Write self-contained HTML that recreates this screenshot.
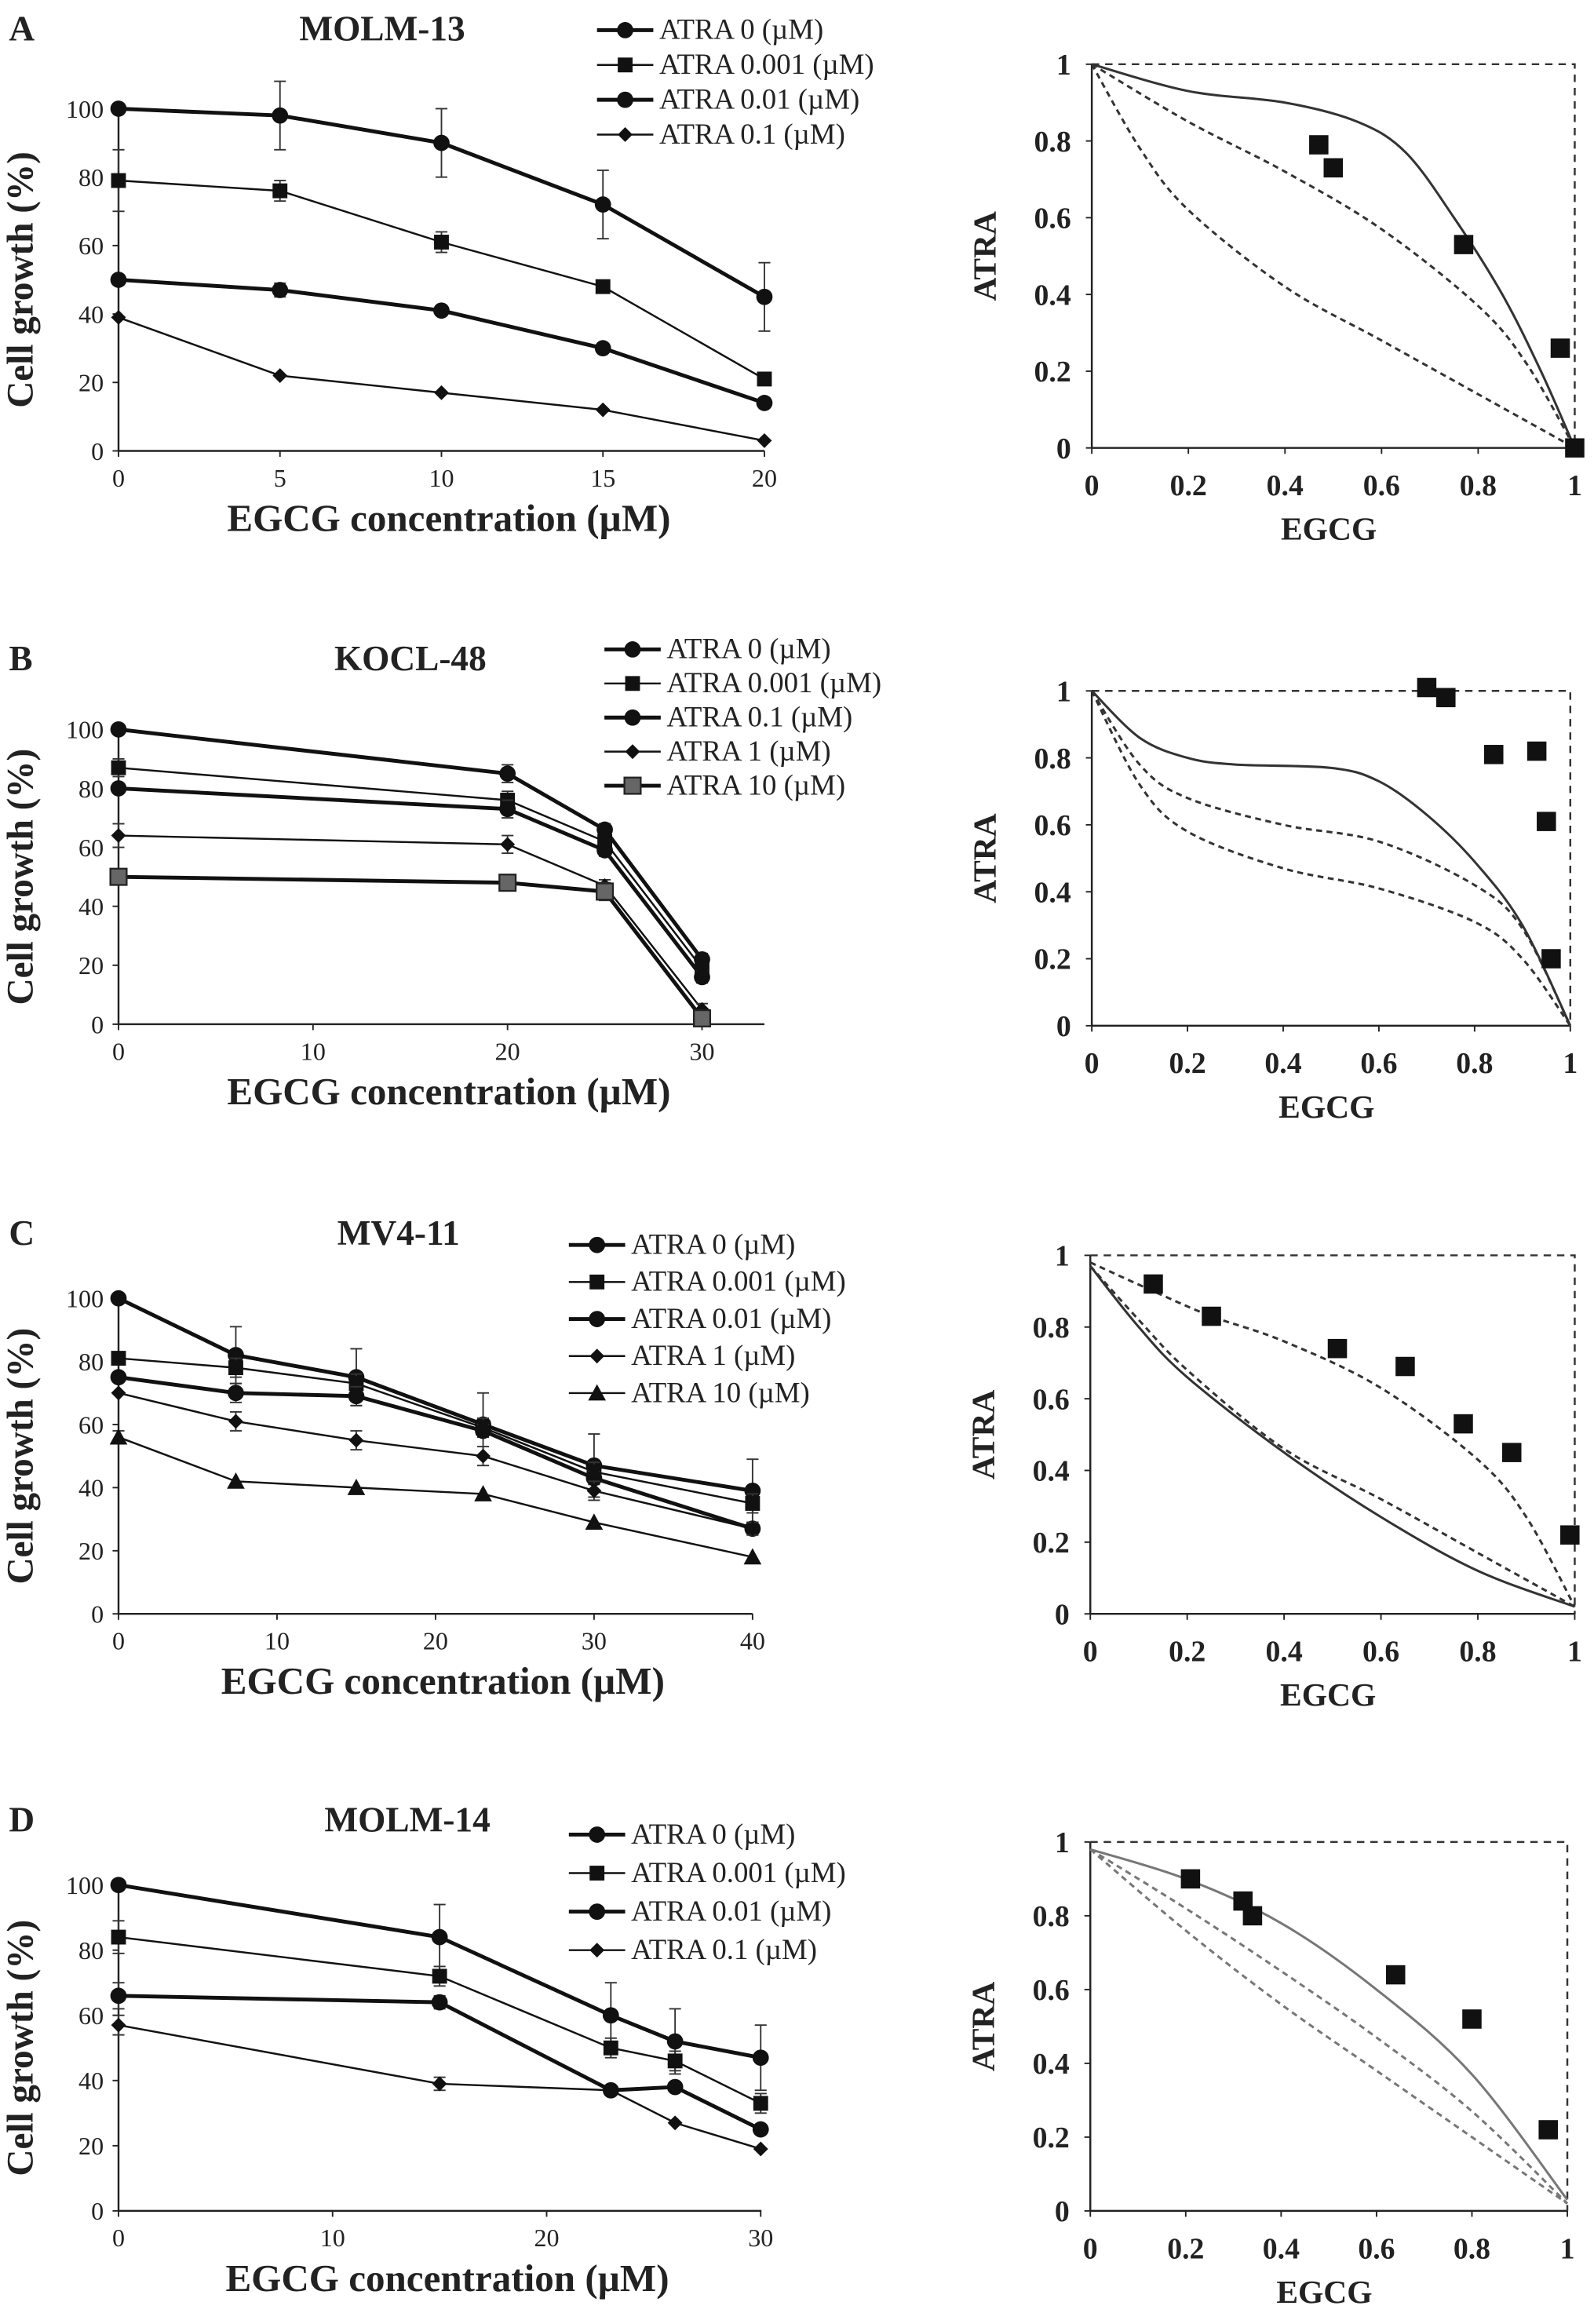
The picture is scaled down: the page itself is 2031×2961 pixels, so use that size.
<!DOCTYPE html>
<html><head><meta charset="utf-8"><style>
html,body{margin:0;padding:0;background:#fff}
svg{display:block}
text{font-family:"Liberation Serif",serif;fill:#222}
</style></head><body>
<svg id="fig" width="2031" height="2961" viewBox="0 0 1076 1568" xmlns="http://www.w3.org/2000/svg"></svg>
<script>
// ---- Data ----
const aX=[0,5,10,15,20];
const aSeries=[[100,98,90,72,45],[79,76,61,48,21],[50,47,41,30,14],[39,22,17,12,3]];
const aErr=[[0,10,10,10,10],[9,3,3,0,0],[0,2,0,0,0],[0,0,0,0,0]];
const aNames=["ATRA 0 (µM)","ATRA 0.001 (µM)","ATRA 0.01 (µM)","ATRA 0.1 (µM)"];
const bX=[0,20,25,30];
const bSeries=[[100,85,66,22],[87,76,62,19],[80,73,59,16],[64,61,47,5],[50,48,45,2]];
const bErr=[[0,3,2,2],[3,3,2,2],[0,3,2,2],[4,3,2,2],[2,2,3,2]];
const bNames=["ATRA 0 (µM)","ATRA 0.001 (µM)","ATRA 0.1 (µM)","ATRA 1 (µM)","ATRA 10 (µM)"];
const cX=[0,7.4,15,23,30,40];
const cSeries=[[100,82,75,60,47,39],[81,78,73,59,45,35],[75,70,69,58,43,27],[70,61,55,50,39,27],[56,42,40,38,29,18]];
const cErr=[[0,9,9,10,10,10],[0,3,3,3,3,3],[0,3,3,2,2,2],[0,3,3,3,3,2],[2,0,0,0,0,0]];
const cNames=["ATRA 0 (µM)","ATRA 0.001 (µM)","ATRA 0.01 (µM)","ATRA 1 (µM)","ATRA 10 (µM)"];
const dX=[0,15,23,26,30];
const dSeries=[[100,84,60,52,47],[84,72,50,46,33],[66,64,37,38,25],[57,39,37,27,19]];
const dErr=[[0,10,10,10,10],[5,3,3,3,3],[4,2,0,0,0],[3,2,0,0,0]];
const dNames=["ATRA 0 (µM)","ATRA 0.001 (µM)","ATRA 0.01 (µM)","ATRA 0.1 (µM)"];
// isobolograms
const aPtsX=[0.47,0.5,0.77,0.97,1.0], aPtsY=[0.79,0.73,0.53,0.26,0];
const aSolid=[[0,1],[0.2,0.93],[0.4,0.9],[0.55,0.85],[0.65,0.77],[0.75,0.6],[0.85,0.4],[0.93,0.2],[1,0]];
const aDash1=[[0,1],[0.2,0.85],[0.4,0.72],[0.6,0.57],[0.8,0.37],[0.9,0.22],[1,0]];
const aDash2=[[0,1],[0.1,0.78],[0.2,0.62],[0.4,0.42],[0.6,0.28],[0.8,0.14],[1,0]];
const bPtsX=[0.7,0.74,0.84,0.93,0.95,0.96], bPtsY=[1.01,0.98,0.81,0.82,0.61,0.2];
const bSolid=[[0,1],[0.1,0.86],[0.2,0.8],[0.3,0.78],[0.5,0.77],[0.6,0.73],[0.7,0.63],[0.8,0.49],[0.9,0.3],[1,0]];
const bDash1=[[0,1],[0.1,0.78],[0.2,0.68],[0.4,0.6],[0.6,0.55],[0.8,0.42],[0.9,0.29],[1,0]];
const bDash2=[[0,1],[0.1,0.72],[0.2,0.58],[0.4,0.47],[0.6,0.41],[0.8,0.31],[0.9,0.2],[1,0]];
const cPtsX=[0.13,0.25,0.51,0.65,0.77,0.87,0.99], cPtsY=[0.92,0.83,0.74,0.69,0.53,0.45,0.22];
const cDash1=[[0,0.98],[0.13,0.9],[0.25,0.83],[0.4,0.76],[0.6,0.63],[0.8,0.43],[0.9,0.27],[1,0.02]];
const cSolid=[[0,0.97],[0.1,0.8],[0.2,0.66],[0.4,0.45],[0.6,0.27],[0.8,0.12],[1,0.02]];
const cDash2=[[0,0.97],[0.1,0.82],[0.2,0.68],[0.4,0.46],[0.6,0.32],[0.8,0.17],[1,0.02]];
const dPtsX=[0.21,0.32,0.34,0.64,0.8,0.96], dPtsY=[0.9,0.84,0.8,0.64,0.52,0.22];
const dSolid=[[0,0.98],[0.2,0.9],[0.4,0.78],[0.6,0.6],[0.8,0.37],[1,0.03]];
const dDash1=[[0,0.98],[0.2,0.82],[0.4,0.65],[0.6,0.47],[0.8,0.27],[1,0.02]];
const dDash2=[[0,0.98],[0.2,0.76],[0.4,0.56],[0.6,0.38],[0.8,0.2],[1,0.02]];

const NS="http://www.w3.org/2000/svg";
const svg=document.getElementById('fig');
function el(tag,attrs,parent,txt){const e=document.createElementNS(NS,tag);for(const k in attrs)e.setAttribute(k,attrs[k]);if(txt!==undefined)e.textContent=txt;(parent||svg).appendChild(e);return e;}

function marker(g,shape,x,y){
  let m;
  if(shape==='sq'){m=el('rect',{x:x-5,y:y-5,width:10,height:10,fill:'#111'},g);}
  else if(shape==='sqg'){m=el('rect',{x:x-5.5,y:y-5.5,width:11,height:11,fill:'#666',stroke:'#222','stroke-width':1.2},g);}
  else if(shape==='dia'){m=el('polygon',{points:`${x},${y-5} ${x+5},${y} ${x},${y+5} ${x-5},${y}`,fill:'#111'},g);}
  else if(shape==='tri'){m=el('polygon',{points:`${x},${y-6} ${x+6},${y+5} ${x-6},${y+5}`,fill:'#111'},g);}
  else {m=el('circle',{cx:x,cy:y,r:5.5,fill:'#111'},g);}
  return m;
}

function lineChart(cfg){
  const g=el('g',{});
  
  
  const sx=v=>cfg.x0+v*cfg.kx, sy=v=>cfg.y0-(v/100)*(cfg.y0-cfg.y100);
  el('line',{x1:cfg.x0,y1:cfg.y0,x2:cfg.xEnd,y2:cfg.y0,stroke:'#222','stroke-width':1.3},g);
  el('line',{x1:cfg.x0,y1:cfg.y0,x2:cfg.x0,y2:cfg.y100-3,stroke:'#222','stroke-width':1.3},g);
  [0,20,40,60,80,100].forEach(v=>{
    el('line',{x1:cfg.x0-4,y1:sy(v),x2:cfg.x0,y2:sy(v),stroke:'#222'},g);
    const t=el('text',{x:cfg.x0-10,y:sy(v)+6,'text-anchor':'end','font-size':17},g,String(v));
    
  });
  cfg.ticks.forEach(v=>{
    el('line',{x1:sx(v),y1:cfg.y0,x2:sx(v),y2:cfg.y0+4,stroke:'#222'},g);
    const t=el('text',{x:sx(v),y:cfg.y0+24,'text-anchor':'middle','font-size':17},g,String(v));
    
  });
  const xt=el('text',{x:(cfg.x0+cfg.xEnd)/2+5,y:cfg.y0+54,'text-anchor':'middle','font-size':26,'font-weight':'bold'},g,'EGCG concentration (µM)');
  
  const yt=el('text',{x:0,y:0,transform:`translate(${cfg.x0-58},${(cfg.y0+cfg.y100)/2}) rotate(-90)`,'text-anchor':'middle','font-size':25,'font-weight':'bold'},g,'Cell growth (%)');
  
  const tt=el('text',{x:cfg.tx,y:cfg.ty,'text-anchor':'middle','font-size':24,'font-weight':'bold'},g,cfg.title);
  
  const pl=el('text',{x:6,y:cfg.ty,'font-size':24,'font-weight':'bold'},g,cfg.letter);
  
  cfg.series.forEach((s,i)=>{
    const sg=el('g',{},g);
    
    const w=cfg.widths[i];
    el('polyline',{points:s.map((v,j)=>sx(cfg.xs[j])+','+sy(v)).join(' '),fill:'none',stroke:'#111','stroke-width':w},sg);
    s.forEach((v,j)=>{
      const e=cfg.err[i][j];
      if(e>0){const x=sx(cfg.xs[j]);
        el('line',{x1:x,y1:sy(v-e),x2:x,y2:sy(v+e),stroke:'#333','stroke-width':1},sg);
        el('line',{x1:x-4,y1:sy(v+e),x2:x+4,y2:sy(v+e),stroke:'#333','stroke-width':1},sg);
        el('line',{x1:x-4,y1:sy(v-e),x2:x+4,y2:sy(v-e),stroke:'#333','stroke-width':1},sg);}
      const m=marker(sg,cfg.shapes[i],sx(cfg.xs[j]),sy(v));
      
    });
    const ly=cfg.ly+i*cfg.ldy;
    const lg=el('g',{},g);
    
    el('line',{x1:cfg.lx,y1:ly,x2:cfg.lx+38,y2:ly,stroke:'#111','stroke-width':w},lg);
    marker(lg,cfg.shapes[i],cfg.lx+19,ly);
    el('text',{x:cfg.lx+42,y:ly+6,'font-size':19.5},lg,cfg.names[i]);
  });
}

function curve(pts){
  let d=`M${pts[0][0]},${pts[0][1]}`;
  for(let i=0;i<pts.length-1;i++){
    const p0=pts[i-1]||pts[i],p1=pts[i],p2=pts[i+1],p3=pts[i+2]||p2;
    const c1=[p1[0]+(p2[0]-p0[0])/6,p1[1]+(p2[1]-p0[1])/6],c2=[p2[0]-(p3[0]-p1[0])/6,p2[1]-(p3[1]-p1[1])/6];
    d+=` C${c1[0]},${c1[1]} ${c2[0]},${c2[1]} ${p2[0]},${p2[1]}`;
  }
  return d;
}

function isoChart(cfg){
  const g=el('g',{});
  
  const sx=v=>cfg.x0+v*(cfg.x1-cfg.x0), sy=v=>cfg.y0-v*(cfg.y0-cfg.y1);
  el('line',{x1:cfg.x0,y1:cfg.y0,x2:cfg.x1,y2:cfg.y0,stroke:'#222','stroke-width':1.3},g);
  el('line',{x1:cfg.x0,y1:cfg.y0,x2:cfg.x0,y2:cfg.y1,stroke:'#222','stroke-width':1.3},g);
  el('polyline',{points:`${cfg.x0},${cfg.y1} ${cfg.x1},${cfg.y1} ${cfg.x1},${cfg.y0}`,fill:'none',stroke:'#333','stroke-width':1.3,'stroke-dasharray':'5,4'},g);
  [0,0.2,0.4,0.6,0.8,1].forEach(v=>{
    el('line',{x1:cfg.x0-4,y1:sy(v),x2:cfg.x0,y2:sy(v),stroke:'#222'},g);
    el('line',{x1:sx(v),y1:cfg.y0,x2:sx(v),y2:cfg.y0+4,stroke:'#222'},g);
    const a=el('text',{x:cfg.x0-14,y:sy(v)+7,'text-anchor':'end','font-size':20,'font-weight':'bold'},g,String(v));
    
    const b=el('text',{x:sx(v),y:cfg.y0+32,'text-anchor':'middle','font-size':20,'font-weight':'bold'},g,String(v));
    
  });
  const xt=el('text',{x:(cfg.x0+cfg.x1)/2-3,y:cfg.y0+62,'text-anchor':'middle','font-size':22,'font-weight':'bold'},g,'EGCG');
  
  const yt=el('text',{transform:`translate(${cfg.x0-65},${(cfg.y0+cfg.y1)/2}) rotate(-90)`,'text-anchor':'middle','font-size':22,'font-weight':'bold'},g,'ATRA');
  
  const col=cfg.gray?'#777':'#333';
  const s=el('path',{d:curve(cfg.solid.map(p=>[sx(p[0]),sy(p[1])])),fill:'none',stroke:col,'stroke-width':1.6},g);
  
  [cfg.d1,cfg.d2].forEach(c=>{
    const p=el('path',{d:curve(c.map(q=>[sx(q[0]),sy(q[1])])),fill:'none',stroke:col,'stroke-width':1.6,'stroke-dasharray':'4,3'},g);
    
  });
  cfg.px.forEach((v,i)=>{
    const m=el('rect',{x:sx(v)-6.5,y:sy(cfg.py[i])-6.5,width:13,height:13,fill:'#111'},g);
    
  });
}

lineChart({name:'chart-a-molm13',x0:80,xEnd:516,kx:21.8,y0:304,y100:73,ticks:[0,5,10,15,20],xs:aX,series:aSeries,err:aErr,names:aNames,
  shapes:['c','sq','c','dia'],widths:[2.6,1.3,2.6,1.3],title:'MOLM-13',tx:258,ty:27,letter:'A',lx:403,ly:20,ldy:23.5});
lineChart({name:'chart-b-kocl48',x0:80,xEnd:516,kx:13.13,y0:691,y100:492,ticks:[0,10,20,30],xs:bX,series:bSeries,err:bErr,names:bNames,
  shapes:['c','sq','c','dia','sqg'],widths:[2.6,1.3,2.6,1.3,2.6],title:'KOCL-48',tx:277,ty:452,letter:'B',lx:408,ly:438,ldy:23});
lineChart({name:'chart-c-mv411',x0:80,xEnd:508,kx:10.7,y0:1089,y100:876,ticks:[0,10,20,30,40],xs:cX,series:cSeries,err:cErr,names:cNames,
  shapes:['c','sq','c','dia','tri'],widths:[2.6,1.3,2.6,1.3,1.3],title:'MV4-11',tx:269,ty:840,letter:'C',lx:384,ly:840,ldy:25});
lineChart({name:'chart-d-molm14',x0:80,xEnd:514,kx:14.45,y0:1492,y100:1272,ticks:[0,10,20,30],xs:dX,series:dSeries,err:dErr,names:dNames,
  shapes:['c','sq','c','dia'],widths:[2.6,1.3,2.6,1.3],title:'MOLM-14',tx:275,ty:1236,letter:'D',lx:384,ly:1238,ldy:26});

isoChart({name:'isobologram-a',x0:737,x1:1063,y0:302,y1:43,px:aPtsX,py:aPtsY,solid:aSolid,d1:aDash1,d2:aDash2});
isoChart({name:'isobologram-b',x0:737,x1:1060,y0:692,y1:466,px:bPtsX,py:bPtsY,solid:bSolid,d1:bDash1,d2:bDash2});
isoChart({name:'isobologram-c',x0:736,x1:1063,y0:1089,y1:847,px:cPtsX,py:cPtsY,solid:cSolid,d1:cDash1,d2:cDash2});
isoChart({name:'isobologram-d',x0:736,x1:1058,y0:1492,y1:1243,px:dPtsX,py:dPtsY,solid:dSolid,d1:dDash1,d2:dDash2,gray:true});
</script>
</body></html>
